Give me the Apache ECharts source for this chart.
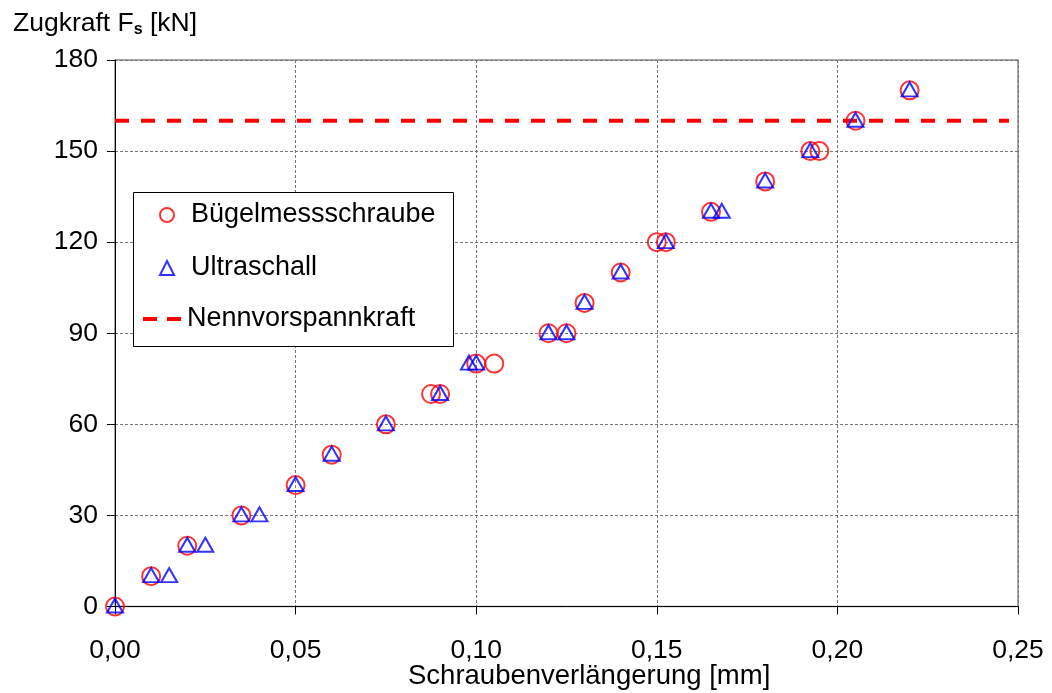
<!DOCTYPE html>
<html>
<head>
<meta charset="utf-8">
<script src="https://cdn.jsdelivr.net/npm/echarts@6/dist/echarts.min.js"></script>
<style>html,body{margin:0;padding:0;background:#fff;}#c{width:1052px;height:693px;}</style>
</head>
<body>
<div id="c"></div>
<script>
// Data
const seriesNames = ['Bügelmessschraube', 'Ultraschall', 'Nennvorspannkraft'];
const buegelX = [0, 0.01, 0.02, 0.035, 0.05, 0.06, 0.075, 0.0875, 0.09, 0.10, 0.105, 0.12, 0.125, 0.13, 0.14, 0.15, 0.1525, 0.165, 0.18, 0.1925, 0.195, 0.205, 0.22];
const buegelY = [0, 10, 20, 30, 40, 50, 60, 70, 70, 80, 80, 90, 90, 100, 110, 120, 120, 130, 140, 150, 150, 160, 170];
const ultraX = [0, 0.01, 0.015, 0.02, 0.025, 0.035, 0.04, 0.05, 0.06, 0.075, 0.09, 0.098, 0.10, 0.12, 0.125, 0.13, 0.14, 0.1525, 0.165, 0.168, 0.18, 0.1925, 0.205, 0.22];
const ultraY = [0, 10, 10, 20, 20, 30, 30, 40, 50, 60, 70, 80, 80, 90, 90, 100, 110, 120, 130, 130, 140, 150, 160, 170];
const nennX = [0, 0.2475];
const nennY = [160, 160];
const xTickLabels = ['0,00', '0,05', '0,10', '0,15', '0,20', '0,25'];
const yTickLabels = ['0', '30', '60', '90', '120', '150', '180'];
const yTitle = 'Zugkraft F';
const yTitleSub = 's';
const yTitleUnit = ' [kN]';
const xTitle = 'Schraubenverlängerung [mm]';

const FONT = 'Liberation Sans, Arial, sans-serif';
const zip = (xs, ys) => xs.map((x, i) => [x, ys[i]]);

const chart = echarts.init(document.getElementById('c'), null, {renderer: 'canvas'});
chart.setOption({
  animation: false,
  backgroundColor: '#fff',
  textStyle: {fontFamily: FONT},
  title: [
    {
      left: 8, top: 5,
      text: '{a|' + yTitle + '}{s|' + yTitleSub + '}{a|' + yTitleUnit + '}',
      textStyle: {
        rich: {
          a: {fontFamily: FONT, fontSize: 26.5, color: '#000', fontWeight: 'normal'},
          s: {fontFamily: FONT, fontSize: 16, color: '#000', verticalAlign: 'bottom', padding: [12, 0, 0, 0]}
        }
      }
    },
    {
      left: 403, top: 657,
      text: xTitle,
      textStyle: {fontFamily: FONT, fontSize: 27.5, color: '#000', fontWeight: 'normal'}
    }
  ],
  graphic: [{
    type: 'rect', z: 50,
    shape: {x: 133.5, y: 192.5, width: 320, height: 154},
    style: {fill: '#fff', stroke: '#000', lineWidth: 1}
  }],
  grid: {
    left: 115, right: 34, top: 60, bottom: 86.5,
    show: true, borderColor: '#8a8a8a', borderWidth: 1.5, backgroundColor: 'transparent'
  },
  legend: [
    {
      orient: 'vertical',
      left: 159, top: 200,
      padding: 0,
      itemGap: 23,
      itemWidth: 14, itemHeight: 14,
      z: 60,
      textStyle: {fontFamily: FONT, fontSize: 27, color: '#000', lineHeight: 30, padding: [0, 0, 0, 12]},
      data: [
        {name: seriesNames[0], icon: 'circle'},
        {name: seriesNames[1], icon: 'triangle'}
      ]
    },
    {
      orient: 'vertical',
      left: 143, top: 304,
      padding: 0,
      itemWidth: 38, itemHeight: 4,
      z: 60,
      textStyle: {fontFamily: FONT, fontSize: 27, color: '#000', lineHeight: 30, padding: [0, 0, 0, 1]},
      data: [
        {name: seriesNames[2], icon: 'path://M0,0H14V4H0Z M24,0H38V4H24Z'}
      ]
    }
  ],
  xAxis: {
    type: 'value', min: 0, max: 0.25, interval: 0.05,
    axisLine: {show: true, onZero: false, lineStyle: {color: '#000', width: 1}},
    axisTick: {show: true, inside: false, length: 8, lineStyle: {color: '#000'}},
    axisLabel: {
      margin: 31, color: '#000', fontSize: 26.5, fontFamily: FONT,
      formatter: v => xTickLabels[Math.round(v / 0.05)]
    },
    splitLine: {show: true, lineStyle: {color: '#777', type: [3, 2], width: 1}}
  },
  yAxis: {
    type: 'value', min: 0, max: 180, interval: 30,
    axisLine: {show: true, onZero: false, lineStyle: {color: '#000', width: 1}},
    axisTick: {show: true, inside: false, length: 8, lineStyle: {color: '#000'}},
    axisLabel: {
      margin: 17, color: '#000', fontSize: 26.5, fontFamily: FONT,
      formatter: v => yTickLabels[Math.round(v / 30)]
    },
    splitLine: {show: true, lineStyle: {color: '#777', type: [3, 2], width: 1}}
  },
  series: [
    {
      name: seriesNames[2],
      type: 'line',
      data: zip(nennX, nennY),
      symbol: 'none',
      z: 1,
      lineStyle: {color: '#ff0000', width: 4, type: [14, 12]},
      itemStyle: {color: '#ff0000'}
    },
    {
      name: seriesNames[0],
      type: 'scatter',
      data: zip(buegelX, buegelY),
      symbol: 'circle',
      symbolSize: 18,
      z: 2,
      itemStyle: {color: 'rgba(255,255,255,0)', borderColor: '#ff0000', borderWidth: 2}
    },
    {
      name: seriesNames[1],
      type: 'scatter',
      data: zip(ultraX, ultraY),
      symbol: 'triangle',
      symbolSize: [16, 14],
      symbolOffset: [0, -1],
      z: 3,
      itemStyle: {color: 'rgba(255,255,255,0)', borderColor: '#0000ff', borderWidth: 2}
    }
  ]
});
</script>
</body>
</html>
